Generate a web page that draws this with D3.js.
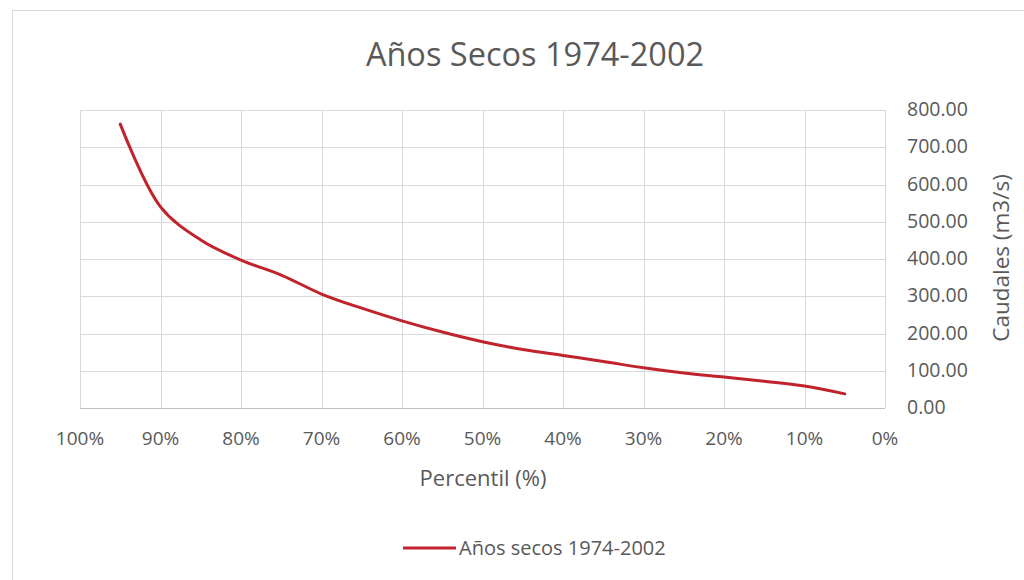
<!DOCTYPE html>
<html>
<head>
<meta charset="utf-8">
<script src="https://cdn.jsdelivr.net/npm/d3@7"></script>
<style>
body { margin: 0; background: #fff; }
svg text { font-family: "Open Sans", "Noto Sans", sans-serif; fill: #595959; }
</style>
</head>
<body>
<svg width="1024" height="580"></svg>
<script>
// percentil (%) and caudal (m3/s)
var percentiles = [95, 90, 85, 80, 75, 70, 65, 60, 55, 50, 45, 40, 35, 30, 25, 20, 15, 10, 5];
var caudales = [762, 540, 451, 397, 357, 306, 268, 234, 204, 178, 157, 141, 125, 108, 94, 83, 72, 59, 38];
var xTicks = [100, 90, 80, 70, 60, 50, 40, 30, 20, 10, 0];
var yTicks = [0, 100, 200, 300, 400, 500, 600, 700, 800];
var seriesName = "Años secos 1974-2002";

var svg = d3.select("svg");
var plotLeft = 80, plotRight = 885, plotTop = 110, plotBottom = 408;

// chart frame
svg.append("rect")
	.attr("x", 12.5).attr("y", 10.5)
	.attr("width", 1040).attr("height", 600)
	.attr("fill", "none")
	.attr("stroke", "#d9d9d9");

var x = d3.scaleLinear().domain([100, 0]).range([plotLeft, plotRight]);
var y = d3.scaleLinear().domain([0, 800]).range([plotBottom, plotTop]);

var grid = svg.append("g");
grid.selectAll("line.v")
	.data(xTicks)
	.enter().append("line")
	.attr("class", "v")
	.attr("x1", function(d) { return Math.round(x(d)) + 0.5; })
	.attr("x2", function(d) { return Math.round(x(d)) + 0.5; })
	.attr("y1", plotTop).attr("y2", plotBottom)
	.attr("stroke", "#d9d9d9");
grid.selectAll("line.h")
	.data(yTicks)
	.enter().append("line")
	.attr("class", "h")
	.attr("x1", plotLeft).attr("x2", plotRight)
	.attr("y1", function(d) { return Math.round(y(d)) + 0.5; })
	.attr("y2", function(d) { return Math.round(y(d)) + 0.5; })
	.attr("stroke", function(d) { return d == 0 ? "#bfbfbf" : "#d9d9d9"; });

// x tick labels
svg.append("g").selectAll("text")
	.data(xTicks)
	.enter().append("text")
	.attr("x", function(d) { return x(d); })
	.attr("y", 445)
	.attr("text-anchor", "middle")
	.attr("font-size", "19px")
	.text(function(d) { return d + "%"; });

// y tick labels (right side)
svg.append("g").selectAll("text")
	.data(yTicks)
	.enter().append("text")
	.attr("x", 907)
	.attr("y", function(d) { return y(d) + 6; })
	.attr("font-size", "19.5px")
	.text(function(d) { return d3.format(".2f")(d); });

// title
svg.append("text")
	.attr("x", 535).attr("y", 66)
	.attr("text-anchor", "middle")
	.attr("font-size", "32.5px")
	.text("Años Secos 1974-2002");

// axis titles
svg.append("text")
	.attr("x", 483).attr("y", 486)
	.attr("text-anchor", "middle")
	.attr("font-size", "22px")
	.text("Percentil (%)");

svg.append("text")
	.attr("transform", "translate(1009,258) rotate(-90)")
	.attr("text-anchor", "middle")
	.attr("font-size", "22.5px")
	.text("Caudales (m3/s)");

// series
var data = percentiles.map(function(p, i) { return {p: p, v: caudales[i]}; });
var line = d3.line()
	.x(function(d) { return x(d.p); })
	.y(function(d) { return y(d.v); })
	.curve(d3.curveCatmullRom.alpha(0.5));

svg.append("path")
	.datum(data)
	.attr("d", line)
	.attr("fill", "none")
	.attr("stroke", "#c0232b")
	.attr("stroke-width", 3)
	.attr("stroke-linecap", "round");

// legend
svg.append("line")
	.attr("x1", 403).attr("x2", 456)
	.attr("y1", 548).attr("y2", 548)
	.attr("stroke", "#c0232b")
	.attr("stroke-width", 3);
svg.append("text")
	.attr("x", 459).attr("y", 555)
	.attr("font-size", "20px")
	.text(seriesName);
</script>
</body>
</html>
